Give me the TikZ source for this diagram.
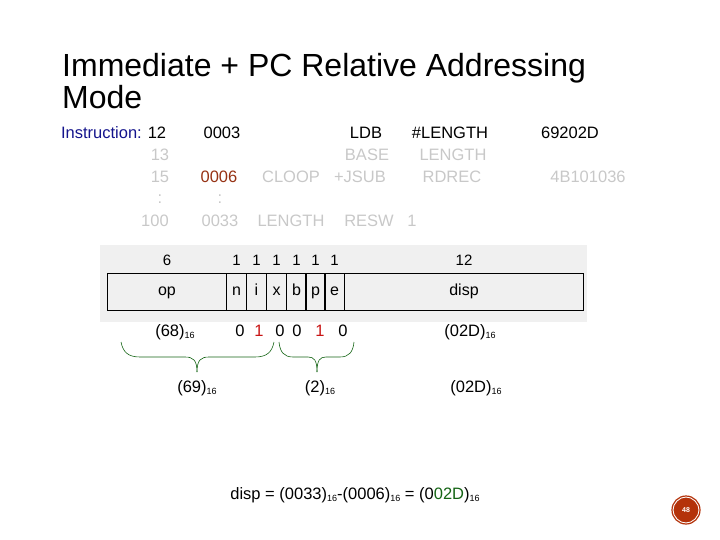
\documentclass[tikz,border=0pt]{standalone}
\usepackage{fontspec}
\setmainfont{Liberation Sans}
\usetikzlibrary{positioning}
\definecolor{navy}{RGB}{20,20,140}
\definecolor{faint}{RGB}{200,200,200}
\definecolor{rust}{RGB}{150,50,20}
\definecolor{bitred}{RGB}{200,20,20}
\definecolor{dgreen}{RGB}{20,100,20}
\definecolor{badge}{RGB}{180,50,10}
\newcommand{\sixteen}{\raisebox{-0.25ex}{\fontsize{9}{9}\selectfont 16}}
\tikzset{
  txt/.style={inner sep=0pt, anchor=base, font=\fontsize{16.5}{16.5}\selectfont},
  dim/.style={txt, text=faint},
  field/.style={draw, line width=1pt, minimum height=37pt, inner sep=0pt, anchor=north west, text height=1.6ex, text depth=0.45ex, font=\fontsize{16}{16}\selectfont},
  brc/.style={draw=dgreen, line width=0.6pt}
}
\begin{document}
\begin{tikzpicture}[x=1pt,y=-1pt]
\useasboundingbox (0,0) rectangle (720,540);
% title
\node[anchor=base west, inner sep=0pt, font=\fontsize{32}{32}\selectfont] (title1) at (62,77) {Immediate + PC Relative Addressing};
\node[anchor=base west, inner sep=0pt, font=\fontsize{32}{32}\selectfont] (title2) at (62,109) {Mode};
% listing
\node[txt, anchor=base east, text=navy] (instr) at (142,139) {Instruction:};
\node[txt] (l1) at (157,139) {12};
\node[txt] (a1) at (222,139) {0003};
\node[txt] (o1) at (366,139) {LDB};
\node[txt] (p1) at (450,139) {\#LENGTH};
\node[txt] (c1) at (570,139) {69202D};
\node[dim] (l2) at (160,161) {13};
\node[dim] (o2) at (367,161) {BASE};
\node[dim] (p2) at (453,161) {LENGTH};
\node[dim] (l3) at (160,183) {15};
\node[txt, text=rust] (a3) at (219,183) {0006};
\node[dim] (s3) at (291,183) {CLOOP};
\node[dim] (o3) at (360,183) {+JSUB};
\node[dim] (p3) at (452,183) {RDREC};
\node[dim] (c3) at (588,183) {4B101036};
\node[dim] (l4) at (160,204) {:};
\node[dim] (a4) at (220,204) {:};
\node[dim] (l5) at (155,226) {100};
\node[dim] (a5) at (220,226) {0033};
\node[dim] (s5) at (291,226) {LENGTH};
\node[dim] (o5) at (369,226) {RESW};
\node[dim] (p5) at (412,226) {1};
% format box
\fill[black!6] (100,245) rectangle (587,322);
\node[field, minimum width=119pt] (op) at (107,273) {op};
\foreach \f/\x in {n/226,i/246,x/266,b/286,p/305,e/324}
  \node[field, minimum width=20pt] (\f) at (\x,273) {\f};
\node[field, minimum width=239pt] (disp) at (344,273) {disp};
\node[txt, font=\fontsize{15}{15}\selectfont, anchor=base] (w6) at (op.center |- 0,265) {6};
\foreach \f in {n,i,x,b,p,e}
  \node[txt, font=\fontsize{15}{15}\selectfont] (w\f) at (\f.center |- 0,265) {1};
\node[txt, font=\fontsize{15}{15}\selectfont] (w12) at (disp.center |- 0,265) {12};
% bits
\node[txt] (h68) at (175,336) {(68)\sixteen};
\node[txt] (bn) at (240,336) {0};
\node[txt, text=bitred] (bi) at (259,336) {1};
\node[txt] (bx) at (280,336) {0};
\node[txt] (bb) at (297,336) {0};
\node[txt, text=bitred] (bp) at (320,336) {1};
\node[txt] (be) at (343,336) {0};
\node[txt] (h02d) at (470,336) {(02D)\sixteen};
% braces
\coordinate (ba) at (121,342);
\coordinate (bt) at (197,372);
\coordinate (bz) at (274,342);
\coordinate (ca) at (279,342);
\coordinate (ct) at (317,372);
\coordinate (cz) at (354,342);
\draw[brc] (ba) .. controls (123,352) and (128,357) .. (140,357) -- (185,357)
  .. controls (193,357) and (197,360) .. (bt);
\draw[brc] (bz) .. controls (272,352) and (267,357) .. (255,357) -- (209,357)
  .. controls (201,357) and (197,360) .. (bt);
\draw[brc] (ca) .. controls (280,352) and (284,357) .. (293,357) -- (308,357)
  .. controls (314,357) and (317,360) .. (ct);
\draw[brc] (cz) .. controls (353,352) and (349,357) .. (340,357) -- (326,357)
  .. controls (320,357) and (317,360) .. (ct);
% results
\node[txt] (h69) at (197,392) {(69)\sixteen};
\node[txt] (h2) at (320,392) {(2)\sixteen};
\node[txt] (h02dr) at (476,392) {(02D)\sixteen};
\node[txt] (calc) at (355,499) {disp = (0033)\sixteen-(0006)\sixteen{} = (0\textcolor{dgreen}{02D})\sixteen};
% page badge
\node[circle, fill=badge, draw=white, double=badge, line width=1pt, double distance=1.2pt, minimum size=28pt, inner sep=0pt, text=white, font=\fontsize{7}{7}\bfseries] (badge) at (686,510) {48};
\end{tikzpicture}
\end{document}
